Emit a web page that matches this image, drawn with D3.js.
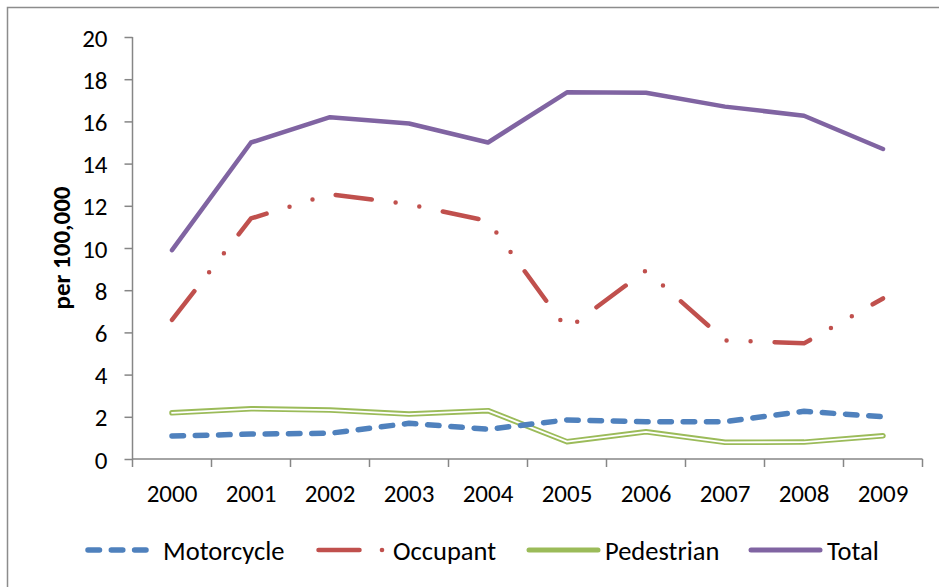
<!DOCTYPE html>
<html>
<head>
<meta charset="utf-8">
<script src="https://cdn.jsdelivr.net/npm/d3@7"></script>
<style>
  html, body { margin: 0; padding: 0; background: #fff; }
  svg { display: block; }
  text { font-family: Carlito, Calibri, Lato, sans-serif; fill: #000; }
</style>
</head>
<body>
<svg id="chart" width="939" height="587"></svg>
<script>
// ---- data ----
const years = ["2000","2001","2002","2003","2004","2005","2006","2007","2008","2009"];
const motorcycle = [1.09, 1.18, 1.22, 1.69, 1.41, 1.85, 1.77, 1.77, 2.26, 2.0];
const occupant   = [6.59, 11.4, 12.55, 12.07, 11.28, 6.15, 8.94, 5.62, 5.48, 7.61];
const pedestrian = [2.19, 2.38, 2.32, 2.13, 2.29, 0.82, 1.29, 0.79, 0.80, 1.10];
const total      = [9.9, 15.0, 16.2, 15.9, 15.0, 17.38, 17.36, 16.70, 16.27, 14.69];
const yTicks = [0, 2, 4, 6, 8, 10, 12, 14, 16, 18, 20];
const seriesNames = ["Motorcycle", "Occupant", "Pedestrian", "Total"];

const colors = { Motorcycle: "#4F81BD", Occupant: "#C0504D", Pedestrian: "#9BBB59", Total: "#8064A2" };

const svg = d3.select("#chart");
const axisColor = "#868686";
const FONT = "Carlito, Calibri, Lato, sans-serif";

// outer frame
svg.append("rect").attr("x", 7.5).attr("y", 7.5).attr("width", 1000).attr("height", 1000)
  .attr("fill", "none").attr("stroke", "#8c8c8c").attr("stroke-width", 1.5);

const x0 = 132.5, x1 = 922.5, yTop = 37, yBot = 459;
const x = d3.scaleBand().domain(years).range([x0, x1]).padding(0);
const y = d3.scaleLinear().domain([0, 20]).range([yBot, yTop]);
const cx = d => x(d) + x.bandwidth() / 2;

// y axis
const yAxis = svg.append("g").attr("transform", `translate(${x0},0)`)
  .call(d3.axisLeft(y).tickValues(yTicks).tickSize(8).tickPadding(17).tickFormat(d3.format("d")));
yAxis.select(".domain").attr("stroke", axisColor).attr("stroke-width", 1.5).attr("d", `M0,${yTop}V${yBot}`);
yAxis.selectAll(".tick line").attr("stroke", axisColor).attr("stroke-width", 1.5);
yAxis.selectAll(".tick text").attr("font-size", 25).attr("font-family", FONT).attr("dy", "0.36em");

// x axis
const xAxis = svg.append("g").attr("transform", `translate(0,${yBot})`)
  .call(d3.axisBottom(x).tickSize(0).tickPadding(25));
xAxis.select(".domain").attr("stroke", axisColor).attr("stroke-width", 1.5).attr("d", `M${x0},0H${x1}`);
xAxis.selectAll(".tick text").attr("font-size", 25).attr("font-family", FONT);
// category boundary ticks
const bounds = years.map(d => x(d)).concat([x1]);
xAxis.selectAll("line.bt").data(bounds).join("line").attr("class", "bt")
  .attr("x1", d => d).attr("x2", d => d).attr("y1", 0).attr("y2", 8)
  .attr("stroke", axisColor).attr("stroke-width", 1.5);

// y title
svg.append("text").attr("transform", "translate(70,248) rotate(-90)")
  .attr("text-anchor", "middle").attr("font-size", 25).attr("font-weight", "bold")
  .text("per 100,000");

const line = d3.line().x((d, i) => cx(years[i])).y(d => y(d));

// Pedestrian: double (compound) line
svg.append("path").attr("d", line(pedestrian)).attr("fill", "none")
  .attr("stroke", colors.Pedestrian).attr("stroke-width", 5.5).attr("stroke-linejoin", "round").attr("stroke-linecap", "round");
svg.append("path").attr("d", line(pedestrian)).attr("fill", "none")
  .attr("stroke", "#fff").attr("stroke-width", 1.8).attr("stroke-linejoin", "round").attr("stroke-linecap", "round");

// Motorcycle: dashed
svg.append("path").attr("d", line(motorcycle)).attr("fill", "none")
  .attr("stroke", colors.Motorcycle).attr("stroke-width", 5.5).attr("stroke-linejoin", "round")
  .attr("stroke-linecap", "round").attr("stroke-dasharray", "11.5,11.8");

// Occupant: long dash dot dot (period fitted so the line ends inside a dash)
const occPath = svg.append("path").attr("d", line(occupant)).attr("fill", "none")
  .attr("stroke", colors.Occupant).attr("stroke-width", 4.5).attr("stroke-linejoin", "round")
  .attr("stroke-linecap", "round");
{
  const L = occPath.node().getTotalLength();
  const base = [37, 24.4, 0, 24.4, 0, 24.4];
  const P0 = d3.sum(base);
  const n = Math.round((L - 12) / P0);
  const k = ((L - 12) / n) / P0;
  occPath.attr("stroke-dasharray", base.map(v => (v * k).toFixed(2)).join(","));
}

// Total: solid
svg.append("path").attr("d", line(total)).attr("fill", "none")
  .attr("stroke", colors.Total).attr("stroke-width", 4.5).attr("stroke-linejoin", "round").attr("stroke-linecap", "round");

// legend
const ly = 550;
const lg = svg.append("g");
// Motorcycle
lg.append("line").attr("x1", 88).attr("x2", 146).attr("y1", ly).attr("y2", ly)
  .attr("stroke", colors.Motorcycle).attr("stroke-width", 5.5).attr("stroke-linecap", "round").attr("stroke-dasharray", "11.5,11.8");
// Occupant
lg.append("line").attr("x1", 318.5).attr("x2", 359.5).attr("y1", ly).attr("y2", ly)
  .attr("stroke", colors.Occupant).attr("stroke-width", 4.5).attr("stroke-linecap", "round");
lg.append("circle").attr("cx", 382).attr("cy", ly).attr("r", 2.3).attr("fill", colors.Occupant);
// Pedestrian
lg.append("line").attr("x1", 529).attr("x2", 598).attr("y1", ly).attr("y2", ly)
  .attr("stroke", colors.Pedestrian).attr("stroke-width", 5).attr("stroke-linecap", "round");
// Total
lg.append("line").attr("x1", 751).attr("x2", 820).attr("y1", ly).attr("y2", ly)
  .attr("stroke", colors.Total).attr("stroke-width", 5).attr("stroke-linecap", "round");

const lx = [163, 393, 605, 827];
lg.selectAll("text.lt").data(seriesNames).join("text").attr("class", "lt")
  .attr("x", (d, i) => lx[i]).attr("y", ly).attr("dy", "0.36em")
  .attr("font-size", 26.5).text(d => d);
</script>
</body>
</html>
